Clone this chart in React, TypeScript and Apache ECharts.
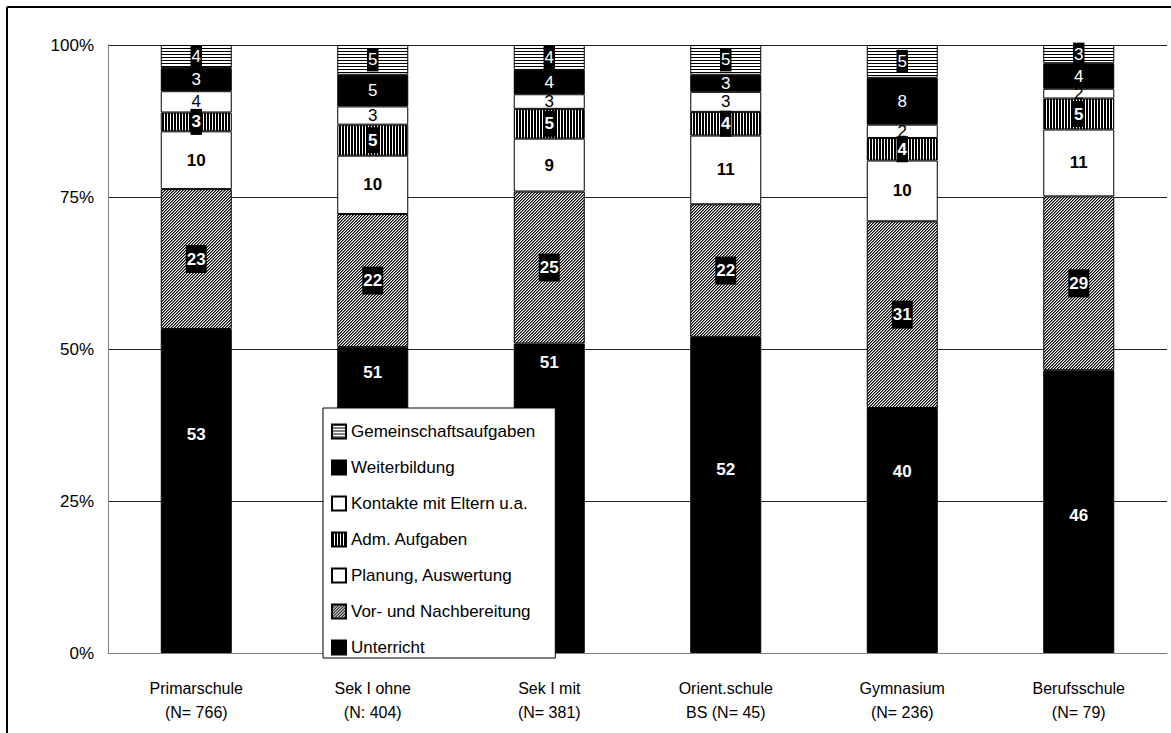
import React, { useEffect, useRef } from "react";
import * as echarts from "echarts";

const categories = [
  "Primarschule\n(N= 766)",
  "Sek I ohne\n(N: 404)",
  "Sek I mit\n(N= 381)",
  "Orient.schule\nBS (N= 45)",
  "Gymnasium\n(N= 236)",
  "Berufsschule\n(N= 79)",
];

const seriesNames = [
  "Unterricht",
  "Vor- und Nachbereitung",
  "Planung, Auswertung",
  "Adm. Aufgaben",
  "Kontakte mit Eltern u.a.",
  "Weiterbildung",
  "Gemeinschaftsaufgaben",
];

// segment shares (percent)
const unterricht = [53.3, 50.3, 50.9, 52.0, 40.3, 46.5];
const vorNach = [23.0, 21.9, 25.0, 21.8, 30.7, 28.6];
const planung = [9.5, 9.6, 8.7, 11.3, 10.0, 11.0];
const adm = [3.1, 5.1, 4.9, 3.9, 3.7, 5.1];
const kontakte = [3.5, 3.0, 2.4, 3.3, 2.2, 1.6];
const weiterbildung = [3.8, 5.2, 4.0, 2.8, 7.7, 4.2];
const gemeinschaft = [3.8, 4.9, 4.1, 4.9, 5.4, 3.0];

// printed value labels
const unterrichtLabels = [53, 51, 51, 52, 40, 46];
const vorNachLabels = [23, 22, 25, 22, 31, 29];
const planungLabels = [10, 10, 9, 11, 10, 11];
const admLabels = [3, 5, 5, 4, 4, 5];
const kontakteLabels = [4, 3, 3, 3, 2, 2];
const weiterbildungLabels = [3, 5, 4, 3, 8, 4];
const gemeinschaftLabels = [4, 5, 4, 5, 5, 3];

const yTicks = [0, 25, 50, 75, 100];

const FONT = "Liberation Sans, Arial, sans-serif";

function makePattern(w: number, h: number, shade: (x: number, y: number) => string) {
  const c = document.createElement("canvas");
  c.width = w;
  c.height = h;
  const ctx = c.getContext("2d")!;
  for (let y = 0; y < h; y++) {
    for (let x = 0; x < w; x++) {
      ctx.fillStyle = shade(x, y);
      ctx.fillRect(x, y, 1, 1);
    }
  }
  return { image: c, repeat: "repeat" } as any;
}

export default function App() {
  const ref = useRef<HTMLDivElement>(null);

  useEffect(() => {
    if (!ref.current) return;
    const chart = echarts.init(ref.current, undefined, { renderer: "svg" });

    const horizStripes = makePattern(4, 3, (_x, y) => (y === 0 ? "#000" : "#fff"));
    const diagStripes = makePattern(3, 3, (x, y) => {
      const k = (x + y) % 3;
      return k === 0 ? "#000" : k === 1 ? "#7a7a7a" : "#fff";
    });
    const vertStripes = makePattern(3, 4, (x) => (x !== 2 ? "#000" : "#fff"));

    const unterrichtLabelOffsets = [-56, -128, -136, -25, -59, 4];

    const baseLabel = {
      show: true,
      position: "inside",
      fontFamily: FONT,
      fontSize: 17,
    };

    const mk = (
      name: string,
      values: number[],
      labels: number[],
      color: any,
      label: any,
      dataMap?: (v: number, i: number) => any
    ) => ({
      name,
      type: "bar",
      stack: "total",
      barWidth: 71,
      data: dataMap ? values.map(dataMap) : values,
      itemStyle: { color, borderColor: "#000", borderWidth: 1 },
      label: {
        ...baseLabel,
        ...label,
        formatter: (p: any) => String(labels[p.dataIndex]),
      },
      emphasis: { disabled: true },
    });

    const series = [
      mk(
        seriesNames[0],
        unterricht,
        unterrichtLabels,
        "#000",
        { color: "#fff", fontWeight: "bold" },
        (v, i) => ({ value: v, label: { offset: [0, unterrichtLabelOffsets[i]] } })
      ),
      mk(seriesNames[1], vorNach, vorNachLabels, diagStripes, {
        color: "#fff",
        fontWeight: "bold",
        backgroundColor: "#000",
        padding: [6, 1, 5, 1],
      }),
      mk(seriesNames[2], planung, planungLabels, "#fff", {
        color: "#000",
        fontWeight: "bold",
      }),
      mk(seriesNames[3], adm, admLabels, vertStripes, {
        color: "#fff",
        fontWeight: "bold",
        backgroundColor: "#000",
        padding: [5, 1, 4, 1],
      }),
      mk(seriesNames[4], kontakte, kontakteLabels, "#fff", { color: "#000" }),
      mk(seriesNames[5], weiterbildung, weiterbildungLabels, "#000", { color: "#fff" }),
      mk(seriesNames[6], gemeinschaft, gemeinschaftLabels, horizStripes, {
        color: "#fff",
        backgroundColor: "#000",
        padding: [3, 1, 3, 1],
      }),
    ];

    chart.setOption({
      animation: false,
      backgroundColor: "#fff",
      textStyle: { fontFamily: FONT },
      grid: { left: 108, right: 4, top: 45, bottom: 80, containLabel: false },
      xAxis: {
        type: "category",
        data: categories,
        axisTick: { show: false },
        axisLine: { lineStyle: { color: "#808080", width: 1 } },
        axisLabel: {
          color: "#000",
          fontFamily: FONT,
          fontSize: 16,
          lineHeight: 24,
          margin: 23,
          interval: 0,
        },
        splitLine: { show: false },
      },
      yAxis: {
        type: "value",
        min: yTicks[0],
        max: yTicks[yTicks.length - 1],
        interval: 25,
        axisLine: { show: true, lineStyle: { color: "#808080", width: 1 } },
        axisTick: { show: false },
        axisLabel: {
          color: "#000",
          fontFamily: FONT,
          fontSize: 17,
          margin: 14,
          formatter: "{value}%",
        },
        splitLine: { show: true, lineStyle: { color: "#222", width: 1 } },
      },
      legend: {
        orient: "vertical",
        left: 323,
        top: 408,
        data: [...seriesNames].reverse(),
        icon: "rect",
        itemWidth: 14,
        itemHeight: 14,
        itemGap: 19,
        selectedMode: false,
        backgroundColor: "#fff",
        borderColor: "#000",
        borderWidth: 1,
        borderRadius: 0,
        padding: [15, 20, 2, 8],
        textStyle: {
          fontFamily: FONT,
          fontSize: 17,
          lineHeight: 16,
          color: "#000",
        },
      },
      graphic: [
        {
          type: "line",
          shape: { x1: 7, y1: 7, x2: 7, y2: 733 },
          style: { stroke: "#000", lineWidth: 2 },
          z: 100,
        },
        {
          type: "line",
          shape: { x1: 7, y1: 7, x2: 1171, y2: 7 },
          style: { stroke: "#000", lineWidth: 2 },
          z: 100,
        },
      ],
      series,
    });

    return () => chart.dispose();
  }, []);

  return (
    <div
      ref={ref}
      style={{ position: "absolute", left: 0, top: 0, width: 1171, height: 733, background: "#fff" }}
    />
  );
}
